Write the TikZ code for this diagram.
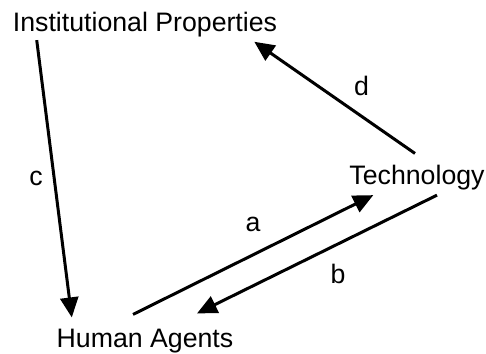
\documentclass[tikz,border=0pt]{standalone}
\usepackage{fontspec}
\setmainfont{Liberation Sans}
\usetikzlibrary{arrows.meta, calc, positioning}

\begin{document}
\begin{tikzpicture}[
  x=1pt, y=-1pt,
  concept/.style={inner sep=0pt, anchor=base, font=\fontsize{26.7}{32}\selectfont},
  lbl/.style={inner sep=0pt, font=\fontsize{26.7}{32}\selectfont},
  arr/.style={-{Triangle[length=20pt, width=18pt]}, line width=3pt},
]
\useasboundingbox (0,0) rectangle (486,353);

\node[concept] (inst)   at (145,32)  {Institutional Properties};
\node[concept] (tech)   at (417,184) {Technology};
\node[concept] (agents) at (145,347) {Human Agents};

\draw[arr] ($(inst.south west)+(24,2.4)$) -- node[lbl, pos=.5, left=10pt] {c} ($(agents.north west)+(15.3,-11)$);
\draw[arr] ($(tech.north)+(-2,-11)$) -- node[lbl, pos=.5, above right=0pt and 18pt] {d} ($(inst.south east)+(-23,4)$);
\draw[arr] ($(agents.north)+(-12,-14)$) -- node[lbl, pos=.5, above=22pt] {a} ($(tech.south west)+(24,5.4)$);
\draw[arr] ($(tech.south)+(20,5.4)$) -- node[lbl, pos=.5, below right=8pt and 12pt] {b} ($(agents.north)+(52,-15)$);
\end{tikzpicture}
\end{document}
